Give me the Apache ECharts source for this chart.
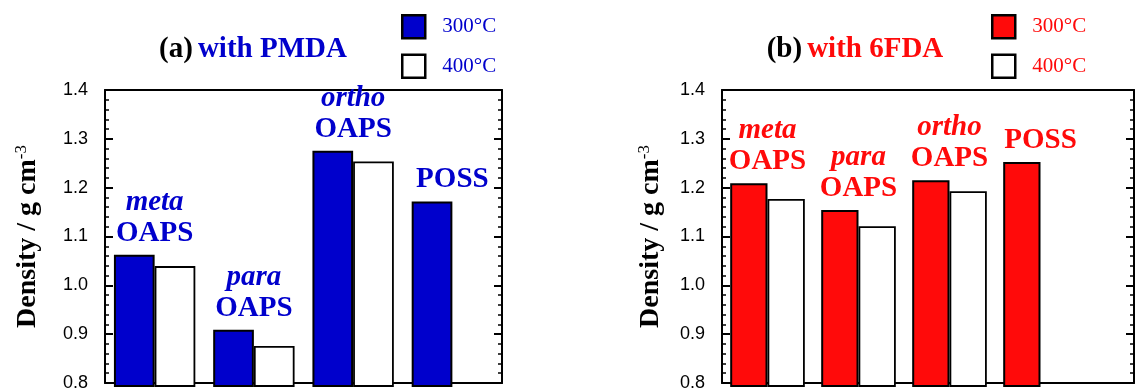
<!DOCTYPE html>
<html>
<head>
<meta charset="utf-8">
<script src="https://cdn.jsdelivr.net/npm/echarts@6/dist/echarts.min.js"></script>
<style>
html,body{margin:0;padding:0;background:#fff;}
#chart{width:1135px;height:392px;}
</style>
</head>
<body>
<div id="chart"></div>
<script>
// ---- data ----
const isomers = ['meta', 'para', 'ortho', ''];
const mainLabels = ['OAPS', 'OAPS', 'OAPS', 'POSS'];
const categories = ['meta OAPS', 'para OAPS', 'ortho OAPS', 'POSS'];
const seriesNames = ['300°C', '400°C'];
const pmda300 = [1.066, 0.914, 1.277, 1.174];
const pmda400 = [1.043, 0.881, 1.255, null];
const fda300 = [1.211, 1.157, 1.217, 1.254];
const fda400 = [1.179, 1.124, 1.195, null];
const yMin = 0.8, yMax = 1.4, yInterval = 0.1;
const titlesPrefix = ['(a)', '(b)'];
const titlesMain = ['with PMDA', 'with 6FDA'];
const yName = 'Density / g cm';
const ySup = '-3';

const SERIF = '"Liberation Serif","Times New Roman",serif';
const SANS = '"Liberation Sans",Arial,Helvetica,sans-serif';

const panels = [
  { v300: pmda300, v400: pmda400, color: '#0000cc',
    frame: {left: 105, width: 397}, bars: {left: 105, width: 397},
    title: {left: 253}, legend: {left: 401}, nameGap: 62 },
  { v300: fda300, v400: fda400, color: '#ff0a0a',
    frame: {left: 722, width: 412}, bars: {left: 722, width: 364},
    title: {left: 855}, legend: {left: 991}, nameGap: 56 }
];

const grid = [], xAxis = [], yAxis = [], series = [], title = [], legend = [];
const TOP = 90, HEIGHT = 296;

panels.forEach((p, i) => {
  const gFrame = grid.length;
  grid.push({left: p.frame.left, top: TOP, width: p.frame.width, height: HEIGHT, containLabel: false});
  const gBars = grid.length;
  grid.push({left: p.bars.left, top: TOP, width: p.bars.width, height: HEIGHT, containLabel: false});

  const lineStyle = {color: '#000', width: 2};
  // frame x axes (bottom & top lines)
  ['bottom', 'top'].forEach(pos => {
    xAxis.push({type: 'value', gridIndex: gFrame, position: pos, min: 0, max: 1,
      axisLine: {show: true, onZero: false, lineStyle}, axisTick: {show: false},
      axisLabel: {show: false}, splitLine: {show: false}});
  });
  const xBars = xAxis.length;
  xAxis.push({type: 'category', gridIndex: gBars, data: categories, show: false});

  // frame y axes
  ['left', 'right'].forEach(pos => {
    yAxis.push({type: 'value', gridIndex: gFrame, position: pos, min: yMin, max: yMax, interval: yInterval,
      axisLine: {show: true, onZero: false, lineStyle},
      axisTick: {show: true, inside: true, length: 8, lineStyle: {color: '#000', width: 2}},
      minorTick: {show: true, splitNumber: 5, length: 4, lineStyle: {color: '#000', width: 1.5}},
      splitLine: {show: false}, minorSplitLine: {show: false},
      axisLabel: {show: pos === 'left', margin: 17, color: '#000', fontFamily: SANS, fontSize: 18,
        formatter: v => v.toFixed(1)},
      name: pos === 'left' ? '{m|' + yName + '}{s|' + ySup + '}' : '',
      nameLocation: 'middle', nameRotate: 90, nameGap: p.nameGap,
      nameTextStyle: {rich: {
        m: {fontFamily: SERIF, fontWeight: 'bold', fontSize: 28, color: '#000', lineHeight: 30},
        s: {fontFamily: SERIF, fontSize: 17, color: '#000', lineHeight: 18, verticalAlign: 'top'}
      }}
    });
  });
  const yBars = yAxis.length;
  yAxis.push({type: 'value', gridIndex: gBars, min: yMin, max: yMax, show: false, splitLine: {show: false}});

  const names = seriesNames;
  series.push({
    name: names[0], type: 'bar', xAxisIndex: xBars, yAxisIndex: yBars, data: p.v300,
    barGap: '0%', barCategoryGap: '18%',
    itemStyle: {color: p.color, borderColor: '#000', borderWidth: 2}
  });
  series.push({
    name: names[1], type: 'bar', xAxisIndex: xBars, yAxisIndex: yBars, data: p.v400,
    barGap: '0%', barCategoryGap: '18%',
    itemStyle: {color: '#fff', borderColor: '#000', borderWidth: 1.8}
  });
  // annotation labels anchored at the tallest bar of each category
  const tops = p.v300.map((v, k) => Math.max(v, p.v400[k] == null ? -Infinity : p.v400[k]));
  series.push({
    type: 'scatter', xAxisIndex: xBars, yAxisIndex: yBars, data: tops, symbolSize: 0, silent: true,
    itemStyle: {opacity: 1},
    label: {show: true, position: 'top', distance: 6, opacity: 1,
      formatter: prm => (isomers[prm.dataIndex] ? '{i|' + isomers[prm.dataIndex] + '}\n' : '') + '{b|' + mainLabels[prm.dataIndex] + '}',
      rich: {
        i: {fontFamily: SERIF, fontStyle: 'italic', fontWeight: 'bold', fontSize: 29, color: p.color, lineHeight: 31},
        b: {fontFamily: SERIF, fontWeight: 'bold', fontSize: 29, color: p.color, lineHeight: 31}
      }}
  });

  title.push({
    text: '{k|' + titlesPrefix[i] + '} {c|' + titlesMain[i] + '}',
    left: p.title.left, top: 34, textAlign: 'center', padding: 0,
    textStyle: {rich: {
      k: {fontFamily: SERIF, fontWeight: 'bold', fontSize: 29, color: '#000', lineHeight: 32},
      c: {fontFamily: SERIF, fontWeight: 'bold', fontSize: 29, color: p.color, lineHeight: 32}
    }}
  });

  legend.push({
    orient: 'vertical', left: p.legend.left, top: 14, padding: 0,
    itemWidth: 23, itemHeight: 23, itemGap: 14, selectedMode: false,
    textStyle: {fontFamily: SERIF, fontSize: 21, color: p.color, lineHeight: 23, padding: [0, 0, 0, 12]},
    data: [
      {name: names[0], icon: 'rect', itemStyle: {color: p.color, borderColor: '#000', borderWidth: 2.5}},
      {name: names[1], icon: 'rect', itemStyle: {color: '#fff', borderColor: '#000', borderWidth: 2.5}}
    ]
  });
});

const chart = echarts.init(document.getElementById('chart'));
chart.setOption({
  animation: false,
  backgroundColor: '#fff',
  title, legend, grid, xAxis, yAxis, series
});
</script>
</body>
</html>
